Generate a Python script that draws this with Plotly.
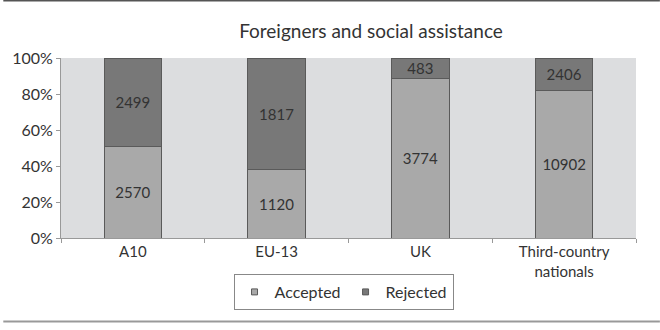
import plotly.graph_objects as go

categories = ["A10", "EU-13", "UK", "Third-country<br>nationals"]
accepted = [2570, 1120, 3774, 10902]
rejected = [2499, 1817, 483, 2406]
y_ticks = [0, 20, 40, 60, 80, 100]
y_tick_labels = ["0%", "20%", "40%", "60%", "80%", "100%"]

W, H = 660, 330
L, R, T, B = 58, 24, 58, 92
pw, ph = W - L - R, H - T - B

def px_to_paper_x(px):
    return (px - L) / pw

def px_to_paper_y(py):
    return (H - B - py) / ph

ACC_COLOR = "#a9a9a9"
REJ_COLOR = "#787878"
EDGE = "#5a5a5a"

fig = go.Figure()
fig.add_trace(go.Bar(
    x=categories, y=accepted, name="Accepted", showlegend=False,
    marker=dict(color=ACC_COLOR, line=dict(color=EDGE, width=1)),
    text=[str(v) for v in accepted], textposition="inside",
    insidetextanchor="middle",
    textfont=dict(color="#333333", size=15),
))
fig.add_trace(go.Bar(
    x=categories, y=rejected, name="Rejected", showlegend=False,
    marker=dict(color=REJ_COLOR, line=dict(color=EDGE, width=1)),
    text=[str(v) for v in rejected], textposition="inside",
    insidetextanchor="middle",
    textfont=dict(color="#333333", size=15),
))
# legend entries with small square markers
for name, col in [("Accepted", ACC_COLOR), ("Rejected", REJ_COLOR)]:
    fig.add_trace(go.Scatter(
        x=[None], y=[None], mode="markers", name=name,
        marker=dict(symbol="square", size=6, color=col, line=dict(color=EDGE, width=1)),
    ))

fig.update_layout(
    width=W, height=H,
    margin=dict(l=L, r=R, t=T, b=B),
    barmode="stack", barnorm="percent", bargap=0.6,
    plot_bgcolor="#dcdddf", paper_bgcolor="white",
    font=dict(family="Lato, Open Sans, sans-serif", color="#333333", size=15),
    title=dict(text="Foreigners and social assistance", x=371 / W, xanchor="center",
               y=1 - 31 / H, yanchor="middle", font=dict(size=19, color="#333333")),
    uniformtext=dict(mode="show", minsize=13),
    showlegend=True,
    legend=dict(orientation="h", x=px_to_paper_x(342), xanchor="center",
                y=px_to_paper_y(292), yanchor="middle", traceorder="normal",
                bordercolor="#888888", borderwidth=1, bgcolor="white",
                font=dict(size=16, color="#333333"), itemwidth=30,
                tracegroupgap=0),
    xaxis=dict(showline=True, linecolor="#999999", linewidth=1,
               ticks="outside", tickson="boundaries", ticklen=4, tickcolor="#999999",
               tickfont=dict(size=15, color="#333333"), showgrid=False),
    yaxis=dict(range=[0, 100], tickmode="array", tickvals=y_ticks, ticktext=y_tick_labels,
               showline=True, linecolor="#999999", linewidth=1,
               ticks="outside", ticklen=4, tickcolor="#999999",
               showgrid=False, zeroline=False,
               tickfont=dict(size=16, color="#333333")),
    shapes=[
        dict(type="line", xref="paper", yref="paper",
             x0=px_to_paper_x(0), x1=px_to_paper_x(W),
             y0=px_to_paper_y(0.5), y1=px_to_paper_y(0.5),
             line=dict(color="#555555", width=2)),
        dict(type="line", xref="paper", yref="paper",
             x0=px_to_paper_x(0), x1=px_to_paper_x(W),
             y0=px_to_paper_y(321.5), y1=px_to_paper_y(321.5),
             line=dict(color="#999999", width=2)),
    ],
)

fig.write_html("out.html")
